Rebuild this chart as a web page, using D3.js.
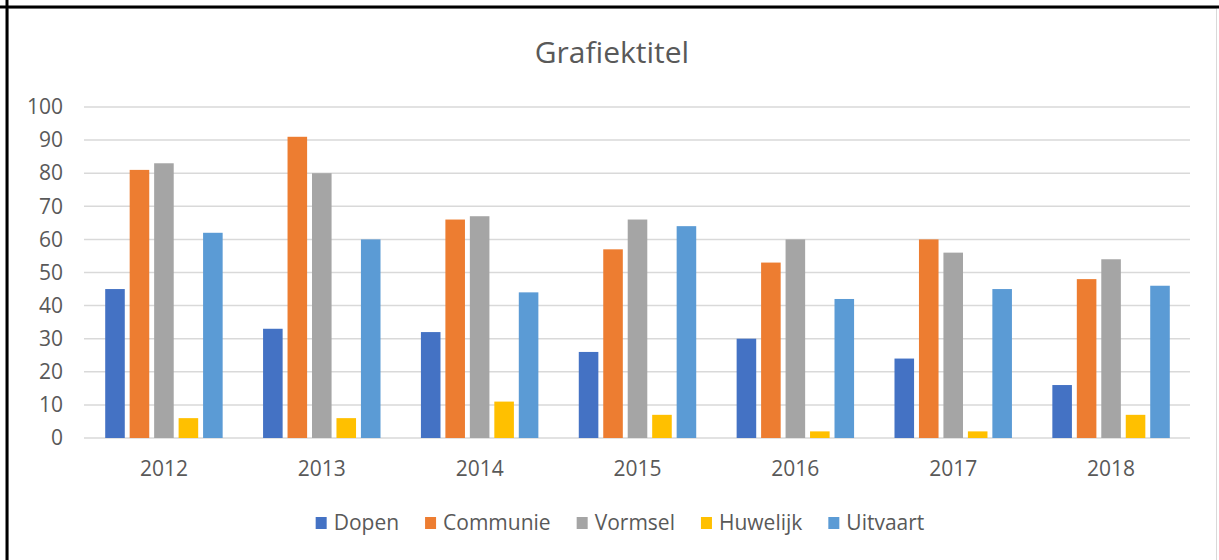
<!DOCTYPE html>
<html>
<head>
<meta charset="utf-8">
<script src="https://cdn.jsdelivr.net/npm/d3@7"></script>
<style>
  body { margin: 0; background: #fff; }
  svg { display: block; font-family: "Open Sans", sans-serif; }
</style>
</head>
<body>
<svg id="chart" width="1219" height="560"></svg>
<script>
// data
var years = ["2012", "2013", "2014", "2015", "2016", "2017", "2018"];
var seriesNames = ["Dopen", "Communie", "Vormsel", "Huwelijk", "Uitvaart"];
var dopen    = [45, 33, 32, 26, 30, 24, 16];
var communie = [81, 91, 66, 57, 53, 60, 48];
var vormsel  = [83, 80, 67, 66, 60, 56, 54];
var huwelijk = [6, 6, 11, 7, 2, 2, 7];
var uitvaart = [62, 60, 44, 64, 42, 45, 46];
var yTicks = [0, 10, 20, 30, 40, 50, 60, 70, 80, 90, 100];
var colors = ["#4472C4", "#ED7D31", "#A5A5A5", "#FFC000", "#5B9BD5"];

var seriesValues = [dopen, communie, vormsel, huwelijk, uitvaart];
var rows = years.map(function(y, i) {
    return seriesNames.map(function(name, s) {
        return {year: y, series: name, value: seriesValues[s][i]};
    });
});

var svg = d3.select("#chart");
var textColor = "#595959";

// chart frame
svg.append("rect")
    .attr("x", 8.5).attr("y", 8.5)
    .attr("width", 1208).attr("height", 560)
    .attr("fill", "none").attr("stroke", "#d9d9d9");
svg.append("line")
    .attr("x1", 0).attr("x2", 1219).attr("y1", 7).attr("y2", 7)
    .attr("stroke", "#000").attr("stroke-width", 3);
svg.append("line")
    .attr("x1", 7).attr("x2", 7).attr("y1", 0).attr("y2", 560)
    .attr("stroke", "#000").attr("stroke-width", 3);

var plotLeft = 85, plotRight = 1190, plotTop = 107, plotBottom = 438;

var x0 = d3.scaleBand()
    .domain(years)
    .range([plotLeft, plotRight])
    .paddingInner(0.225)
    .paddingOuter(0.1125);

var x1 = d3.scaleBand()
    .domain(seriesNames)
    .range([0, x0.bandwidth()])
    .paddingInner(0.2)
    .paddingOuter(0.1);

var y = d3.scaleLinear()
    .domain([0, 100])
    .range([plotBottom, plotTop]);

var color = d3.scaleOrdinal().domain(seriesNames).range(colors);

// gridlines
svg.append("g")
    .selectAll("line")
    .data(yTicks)
    .enter().append("line")
    .attr("x1", plotLeft - 1).attr("x2", plotRight)
    .attr("y1", function(d) { return y(d); })
    .attr("y2", function(d) { return y(d); })
    .attr("stroke", "#d9d9d9")
    .attr("stroke-width", 1.5);

// y axis labels
var yAxis = d3.axisLeft(y).tickValues(yTicks).tickSize(0).tickPadding(0);
var yg = svg.append("g")
    .attr("transform", "translate(63,0)")
    .call(yAxis);
yg.select(".domain").remove();
yg.selectAll("text")
    .attr("fill", textColor)
    .style("font-size", "21px")
    .style("font-family", "Open Sans, sans-serif");

// x axis labels
var xAxis = d3.axisBottom(x0).tickSize(0).tickPadding(0);
var xg = svg.append("g")
    .attr("transform", "translate(0," + 461 + ")")
    .call(xAxis);
xg.select(".domain").remove();
xg.selectAll("text")
    .attr("fill", textColor)
    .attr("dy", "0.71em")
    .style("font-size", "21px")
    .style("font-family", "Open Sans, sans-serif");

// bars
var groups = svg.append("g")
    .selectAll("g")
    .data(rows)
    .enter().append("g")
    .attr("transform", function(d, i) { return "translate(" + x0(years[i]) + ",0)"; });

groups.selectAll("rect")
    .data(function(d) { return d; })
    .enter().append("rect")
    .attr("x", function(d) { return x1(d.series); })
    .attr("width", x1.bandwidth())
    .attr("y", function(d) { return y(d.value); })
    .attr("height", function(d) { return y(0) - y(d.value); })
    .attr("fill", function(d) { return color(d.series); });

// title
svg.append("text")
    .attr("x", 612)
    .attr("y", 63)
    .attr("text-anchor", "middle")
    .attr("fill", textColor)
    .style("font-size", "30px")
    .text("Grafiektitel");

// legend
var legend = svg.append("g").attr("class", "legend");
var lx = 0;
seriesNames.forEach(function(name) {
    var item = legend.append("g").attr("transform", "translate(" + lx + ",0)");
    item.append("rect")
        .attr("x", 0).attr("y", -13)
        .attr("width", 11).attr("height", 12)
        .attr("fill", color(name));
    var t = item.append("text")
        .attr("x", 18)
        .attr("y", 0)
        .attr("fill", textColor)
        .style("font-size", "21px")
        .text(name);
    lx += 18 + t.node().getComputedTextLength() + 26;
});
var legendWidth = lx - 26;
legend.attr("transform", "translate(" + (620 - legendWidth / 2) + ",530)");
</script>
</body>
</html>
